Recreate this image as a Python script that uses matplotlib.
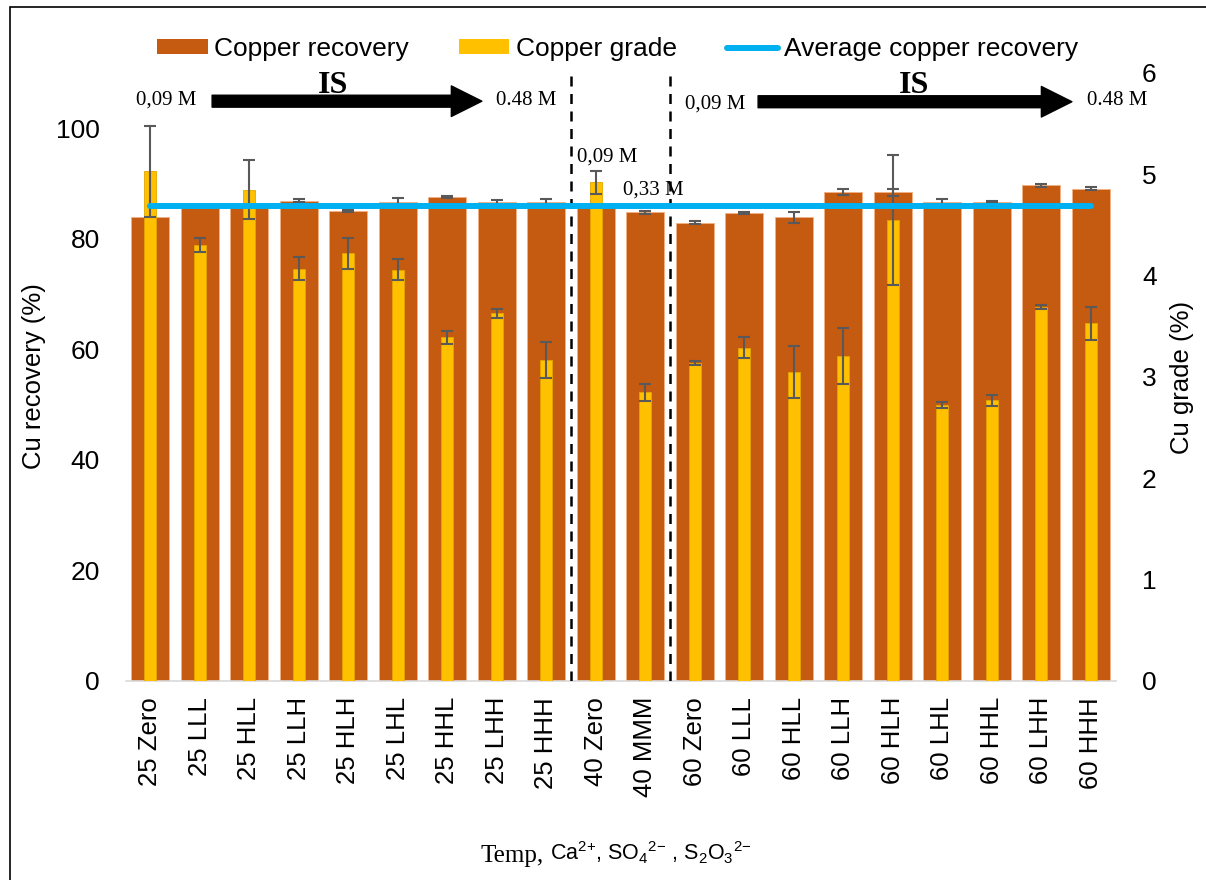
import matplotlib
matplotlib.use("Agg")
import matplotlib.pyplot as plt
from matplotlib.patches import Patch, Rectangle
from matplotlib.lines import Line2D
import numpy as np

# ---------- Data ----------
categories = ["25 Zero", "25 LLL", "25 HLL", "25 LLH", "25 HLH", "25 LHL", "25 HHL",
              "25 LHH", "25 HHH", "40 Zero", "40 MMM", "60 Zero", "60 LLL", "60 HLL",
              "60 LLH", "60 HLH", "60 LHL", "60 HHL", "60 LHH", "60 HHH"]
recovery = [84.0, 85.8, 85.9, 86.9, 85.0, 86.6, 87.5, 86.6, 86.6, 86.5,
            84.8, 82.9, 84.6, 83.9, 88.5, 88.4, 86.6, 86.7, 89.7, 89.1]
recovery_err = [0.0, 0.1, 0.1, 0.3, 0.2, 0.8, 0.2, 0.4, 0.6, 0.1,
                0.3, 0.3, 0.2, 1.0, 0.6, 0.7, 0.6, 0.1, 0.3, 0.3]
grade = [5.03, 4.30, 4.85, 4.07, 4.22, 4.06, 3.39, 3.63, 3.17, 4.92,
         2.85, 3.14, 3.29, 3.05, 3.21, 4.55, 2.72, 2.77, 3.69, 3.53]
grade_err = [0.45, 0.07, 0.29, 0.115, 0.15, 0.105, 0.06, 0.045, 0.18, 0.115,
             0.085, 0.02, 0.10, 0.26, 0.275, 0.64, 0.03, 0.055, 0.02, 0.16]
avg_recovery = [86.0] * len(categories)

ORANGE = "#C55A11"
YELLOW = "#FFC000"
BLUE = "#00B0F0"
ERR = "#595959"

plt.rcParams["font.family"] = ["Liberation Sans", "DejaVu Sans"]
plt.rcParams["mathtext.fontset"] = "custom"
plt.rcParams["mathtext.rm"] = "Liberation Sans"
plt.rcParams["mathtext.it"] = "Liberation Sans:italic"

W, H = 1206, 880
fig = plt.figure(figsize=(W / 100, H / 100), dpi=100)

# plot area in pixels: x 125.5 -> 1115.5, y 73 -> 681
ax = fig.add_axes([125.5 / W, 1 - 681 / H, 990 / W, 608 / H])
x = np.arange(len(categories))

# Copper recovery (left axis)
ax.bar(x, recovery, width=0.77, color=ORANGE, edgecolor="#F4B183", linewidth=0.6, zorder=2)
ax.errorbar(x, recovery, yerr=recovery_err, fmt="none", ecolor=ERR,
            elinewidth=1.5, capsize=4.3, capthick=1.5, zorder=3)
ax.set_ylim(0, 110)
ax.set_xlim(-0.5, len(categories) - 0.5)
ax.set_yticks([0, 20, 40, 60, 80, 100])
ax.set_xticks(x)
ax.set_xticklabels(categories, rotation=90, fontsize=18.5)
ax.tick_params(axis="y", length=0, pad=18.5, labelsize=19)
ax.tick_params(axis="x", length=0, pad=11.5)
for s in ["top", "left", "right"]:
    ax.spines[s].set_visible(False)
ax.spines["bottom"].set_color("#D9D9D9")
ax.spines["bottom"].set_linewidth(1.2)

# Copper grade (right axis)
ax2 = ax.twinx()
ax2.bar(x, grade, width=0.24, color=YELLOW, edgecolor="#E3A600", linewidth=0.6, zorder=2)
ax2.errorbar(x, grade, yerr=grade_err, fmt="none", ecolor=ERR,
             elinewidth=1.5, capsize=4.3, capthick=1.5, zorder=3)
ax2.set_ylim(0, 6)
ax2.set_yticks(range(7))
ax2.tick_params(axis="y", length=0, pad=19, labelsize=19)
for s in ["top", "left", "right", "bottom"]:
    ax2.spines[s].set_visible(False)

# Average line + annotations on top layer (left-axis scale)
ax3 = ax.twinx()
ax3.set_ylim(0, 110)
ax3.set_axis_off()
ax3.plot(x, avg_recovery, color=BLUE, linewidth=4.3, solid_capstyle="round", zorder=5)

for xb in [8.5, 10.5]:
    ax3.axvline(xb, color="black", linewidth=1.8, linestyle=(0, (4, 3)), zorder=4)

serif = ["Liberation Serif", "DejaVu Serif"]
arrow_kw = dict(arrowstyle="simple,head_length=2.2,head_width=2.2,tail_width=0.86",
                color="black", shrinkA=0, shrinkB=0, mutation_scale=10)
ax3.annotate("", xy=(6.70, 104.9), xytext=(1.25, 104.9), arrowprops=arrow_kw,
             annotation_clip=False)
ax3.annotate("", xy=(18.62, 104.8), xytext=(12.28, 104.8), arrowprops=arrow_kw,
             annotation_clip=False)

labels = [
    ("0,09 M", 0.33, 105.1),
    ("0.48 M", 7.60, 105.1),
    ("0,09 M", 11.41, 104.4),
    ("0.48 M", 19.53, 105.1),
    ("0,09 M", 9.24, 94.8),
    ("0,33 M", 10.16, 88.8),
]
for txt, tx, ty in labels:
    ax3.text(tx, ty, txt, family=serif, fontsize=15, ha="center", va="center", clip_on=False)
for tx in [3.69, 15.43]:
    ax3.text(tx, 107.7, "IS", family=serif, fontsize=23, fontweight="bold",
             ha="center", va="center", clip_on=False)

# Axis titles
fig.text(34 / W, 1 - 376 / H, "Cu recovery (%)", rotation=90, fontsize=18.5,
         ha="center", va="center")
fig.text(1182 / W, 1 - 377 / H, "Cu grade (%)", rotation=90, fontsize=18.5,
         ha="center", va="center")
fig.text(544 / W, 1 - 856 / H, "Temp,", family=serif, fontsize=18, ha="right", va="center")
fig.text(550 / W, 1 - 853 / H, r"Ca$^{2{+}}$, SO$_4$$^{2{-}}$ , S$_2$O$_3$$^{2{-}}$",
         fontsize=15.5, ha="left", va="center")

# Legend
handles = [Patch(facecolor=ORANGE, edgecolor="none"),
           Patch(facecolor=YELLOW, edgecolor="none"),
           Line2D([0], [0], color=BLUE, linewidth=4.3, solid_capstyle="round")]
fig.legend(handles, ["Copper recovery", "Copper grade", "Average copper recovery"],
           loc="center", bbox_to_anchor=(618 / W, 1 - 49 / H), ncol=3, frameon=False,
           fontsize=19, handlelength=1.9, handleheight=0.5, handletextpad=0.26,
           columnspacing=1.9, borderpad=0)

# Outer frame (partly cut off at right/bottom like the reference)
fig.add_artist(Rectangle((10 / W, -0.05), 1.1, 1.05 - 7 / H, transform=fig.transFigure,
                         fill=False, edgecolor="black", linewidth=1.2))

fig.savefig("out.png", dpi=100)
